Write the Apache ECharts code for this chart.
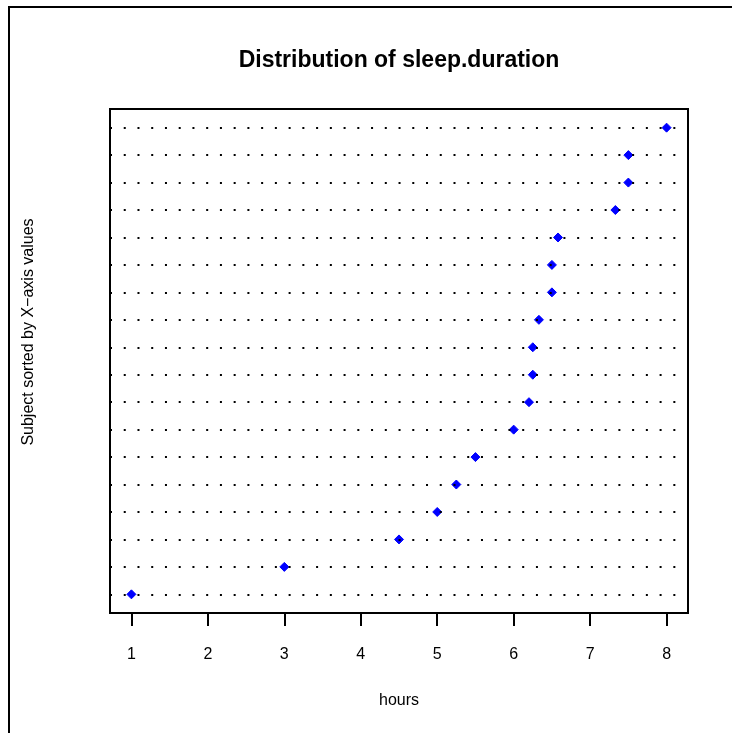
<!DOCTYPE html>
<html>
<head>
<meta charset="utf-8">
<script src="https://cdn.jsdelivr.net/npm/echarts@6/dist/echarts.min.js"></script>
<style>
html,body{margin:0;padding:0;background:#fff;}
#chart{width:732px;height:733px;}
</style>
</head>
<body>
<div id="chart"></div>
<script>
// Data: sleep duration (hours), sorted ascending (row 1 = bottom)
const sleepHours = [1, 3, 4.5, 5, 5.25, 5.5, 6, 6.2, 6.25, 6.25, 6.33, 6.5, 6.5, 6.58, 7.33, 7.5, 7.5, 8];
const rowIndex = sleepHours.map((v, i) => i + 1);
const xTicks = [1, 2, 3, 4, 5, 6, 7, 8];
const titleText = 'Distribution of sleep.duration';
const xLabel = 'hours';
const yLabel = 'Subject sorted by X\u2212axis values';

const FONT = '"Liberation Sans", Arial, Helvetica, sans-serif';
const chart = echarts.init(document.getElementById('chart'), null, {renderer: 'canvas'});

const xRange = xTicks[xTicks.length - 1] - xTicks[0];
const xMin = xTicks[0] - 0.04 * xRange;
const xMax = xTicks[xTicks.length - 1] + 0.04 * xRange;
const yRange = rowIndex.length - 1;
const yMin = 1 - 0.04 * yRange;
const yMax = rowIndex.length + 0.04 * yRange;

const gridL = 110, gridT = 109, gridW = 578, gridH = 504;

chart.setOption({
  animation: false,
  backgroundColor: '#fff',
  grid: {left: gridL, top: gridT, width: gridW, height: gridH, show: true, borderColor: '#000', borderWidth: 2, backgroundColor: 'transparent'},
  graphic: [
    {type: 'rect', shape: {x: 9, y: 7, width: 900, height: 900}, style: {fill: 'none', stroke: '#000', lineWidth: 2}, silent: true, z: 0},
    {type: 'text', x: gridL + gridW / 2, y: 61, style: {text: titleText, font: 'bold 23px ' + FONT, fill: '#000', textAlign: 'center', textVerticalAlign: 'middle'}, silent: true},
    {type: 'text', x: 29, y: 332, rotation: Math.PI / 2, style: {text: yLabel, font: '16px ' + FONT, fill: '#000', textAlign: 'center', textVerticalAlign: 'middle'}, silent: true}
  ],
  xAxis: {
    type: 'value', min: xMin, max: xMax,
    name: xLabel, nameLocation: 'middle', nameGap: 80,
    nameTextStyle: {fontFamily: FONT, fontSize: 16, color: '#000'},
    axisLine: {show: false},
    splitLine: {show: false},
    axisTick: {show: true, inside: false, length: 13, customValues: xTicks, lineStyle: {color: '#000', width: 2}},
    axisLabel: {show: true, margin: 34, customValues: xTicks, fontFamily: FONT, fontSize: 16, color: '#000', formatter: v => String(v)}
  },
  yAxis: {
    type: 'value', min: yMin, max: yMax,
    axisLine: {show: false}, axisTick: {show: false}, axisLabel: {show: false}, splitLine: {show: false}
  },
  series: [
    {
      type: 'line', data: [], silent: true, z: 1,
      markLine: {
        silent: true, symbol: ['none', 'none'], animation: false,
        label: {show: false},
        lineStyle: {color: '#000', width: 2, type: [2, 11.74], cap: 'butt'},
        emphasis: {disabled: true},
        data: rowIndex.map(r => ({yAxis: r}))
      }
    },
    {
      type: 'scatter', z: 3, symbol: 'diamond', symbolSize: 9,
      itemStyle: {color: '#0000FF', borderColor: '#0000FF', borderWidth: 1, opacity: 1},
      data: sleepHours.map((v, i) => [v, rowIndex[i]])
    }
  ]
});
</script>
</body>
</html>
